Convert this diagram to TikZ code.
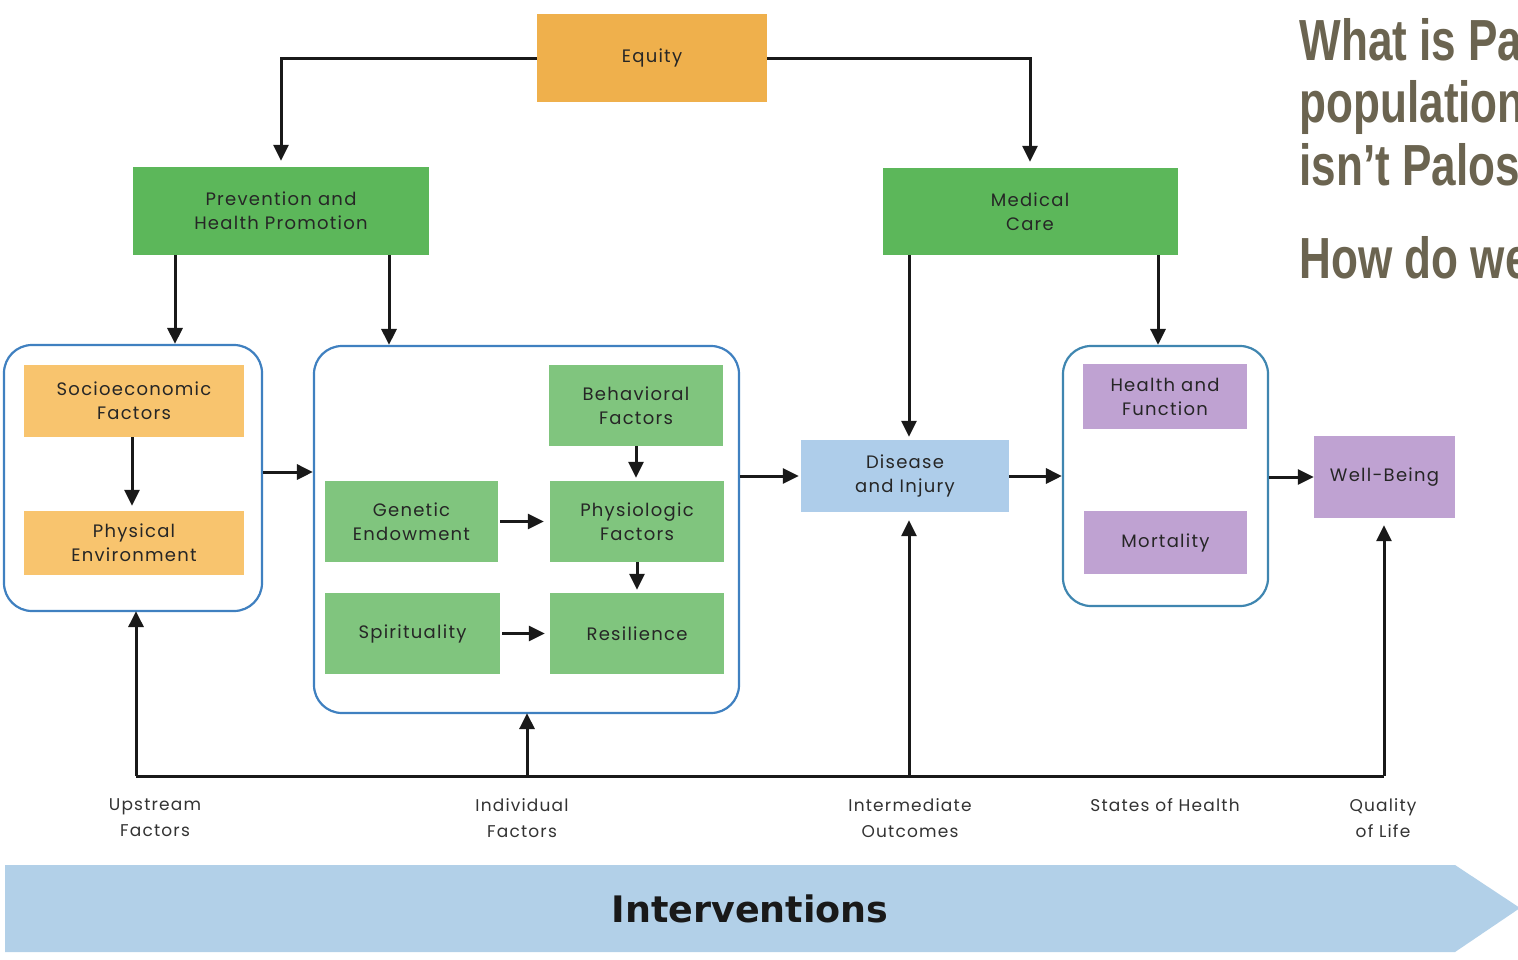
\documentclass[tikz,border=0pt]{standalone}
\usepackage{fontspec}
\setmainfont[LetterSpace=7]{Poppins}
\newfontfamily\titlefont[FakeStretch=0.76]{Liberation Sans}
\newfontfamily\bandfont{DejaVu Sans}
\usetikzlibrary{arrows.meta}

\definecolor{eqorange}{HTML}{EFB04C}
\definecolor{ltorange}{HTML}{F8C46E}
\definecolor{dkgreen}{HTML}{5CB75A}
\definecolor{ltgreen}{HTML}{80C57E}
\definecolor{ltblue}{HTML}{AECDEA}
\definecolor{lilac}{HTML}{BFA2D2}
\definecolor{frameblue}{HTML}{3F80C0}
\definecolor{frameteal}{HTML}{3F86B0}
\definecolor{bandblue}{HTML}{B2D0E8}
\definecolor{titlegrey}{HTML}{6B6450}
\definecolor{inkgrey}{HTML}{333333}

\tikzset{
  box/.style={rectangle, inner sep=0pt, align=center,
    font=\fontsize{18}{24}\selectfont, text=black!85},
  frame/.style={rectangle, rounded corners=28pt, draw=frameblue,
    line width=2.2pt, fill=white, inner sep=0pt},
  link/.style={draw=black!90, line width=3pt},
  arr/.style={link, -{Triangle[length=16pt,width=15pt]}},
  caption/.style={align=center, text=inkgrey,
    font=\fontsize{17}{26}\selectfont},
  headline/.style={anchor=base west, text=titlegrey,
    font=\titlefont\bfseries\fontsize{58}{62}\selectfont},
}

\begin{document}
\begin{tikzpicture}[x=1pt, y=-1pt]
  \useasboundingbox (0,0) rectangle (1518,959);
  \clip (0,0) rectangle (1518,959);
  \fill[white] (0,0) rectangle (1518,959);

  % top row
  \node[box, fill=eqorange, minimum width=230pt, minimum height=88pt] (eq) at (652,58) {Equity};
  \node[box, fill=dkgreen, minimum width=296pt, minimum height=88pt] (prev) at (281,211) {Prevention and\\Health Promotion};
  \node[box, fill=dkgreen, minimum width=295pt, minimum height=87pt] (med) at (1030,211.5) {Medical\\Care};

  % upstream factors
  \node[frame, minimum width=258pt, minimum height=266pt] (lc) at (133,478) {};
  \node[box, fill=ltorange, minimum width=220pt, minimum height=72pt] (socio) at (134,401) {Socioeconomic\\Factors};
  \node[box, fill=ltorange, minimum width=220pt, minimum height=64pt] (phys) at (134,543) {Physical\\Environment};

  % individual factors
  \node[frame, minimum width=425pt, minimum height=367pt] (mc) at (526.5,529.5) {};
  \node[box, fill=ltgreen, minimum width=174pt, minimum height=81pt] (behav) at (636,405.5) {Behavioral\\Factors};
  \node[box, fill=ltgreen, minimum width=173pt, minimum height=81pt] (gen) at (411.5,521.5) {Genetic\\Endowment};
  \node[box, fill=ltgreen, minimum width=174pt, minimum height=81pt] (physio) at (637,521.5) {Physiologic\\Factors};
  \node[box, fill=ltgreen, minimum width=175pt, minimum height=81pt] (spirit) at (412.5,633.5) {Spirituality};
  \node[box, fill=ltgreen, minimum width=174pt, minimum height=81pt] (resil) at (637,633.5) {Resilience};

  % outcomes
  \node[box, fill=ltblue, minimum width=208pt, minimum height=72pt] (dis) at (905,476) {Disease\\and Injury};
  \node[frame, draw=frameteal, minimum width=205pt, minimum height=260pt] (rc) at (1165.5,476) {};
  \node[box, fill=lilac, minimum width=164pt, minimum height=65pt] (hf) at (1165,396.5) {Health and\\Function};
  \node[box, fill=lilac, minimum width=163pt, minimum height=63pt] (mort) at (1165.5,542.5) {Mortality};
  \node[box, fill=lilac, minimum width=141pt, minimum height=82pt] (well) at (1384.5,477) {Well-Being};

  % equity branches
  \draw[arr, shorten >=6pt] (eq.west) -| (prev.north);
  \draw[arr, shorten >=6pt] (eq.east) -| (med.north);

  % prevention and medical care branches
  \draw[arr] ([xshift=-106pt]prev.south) -- ([xshift=-106pt]prev.south |- lc.north);
  \draw[arr] ([xshift=108pt]prev.south) -- ([xshift=108pt]prev.south |- mc.north);
  \draw[arr, shorten >=3pt] ([xshift=-121pt]med.south) -- ([xshift=-121pt]med.south |- dis.north);
  \draw[arr] ([xshift=128pt]med.south) -- ([xshift=128pt]med.south |- rc.north);

  % main flow
  \draw[arr] ([yshift=6pt]lc.east) -- ([yshift=6pt]lc.east -| mc.west);
  \draw[arr, shorten >=2pt] (dis.west -| mc.east) -- (dis.west);
  \draw[arr] (dis.east) -- (dis.east -| rc.west);
  \draw[arr] (rc.east |- well.west) -- (well.west);

  % inside the frames
  \draw[arr, shorten >=5pt] ([xshift=-2pt]socio.south) -- ([xshift=-2pt]phys.north);
  \draw[arr, shorten >=3pt] (behav.south) -- (behav.south |- physio.north);
  \draw[arr, shorten >=3pt] (physio.south) -- (resil.north);
  \draw[arr, shorten <=2pt, shorten >=6pt] (gen.east) -- (gen.east -| physio.west);
  \draw[arr, shorten <=2pt, shorten >=5pt] (spirit.east) -- (spirit.east -| resil.west);

  % feedback line along the bottom
  \coordinate (fbL) at (136,776);
  \coordinate (fbI) at (527,776);
  \coordinate (fbM) at (909,776);
  \coordinate (fbR) at (1384,776);
  \draw[link] (fbL) -- (fbR);
  \draw[arr, shorten >=-1pt] (fbL) -- (fbL |- lc.south);
  \draw[arr, shorten >=-1pt] (fbI) -- (fbI |- mc.south);
  \draw[arr, shorten >=8pt] (fbM) -- (fbM |- dis.south);
  \draw[arr, shorten >=7pt] (fbR) -- (fbR |- well.south);

  % stage captions
  \node[caption] (cUp) at (155,818) {Upstream\\Factors};
  \node[caption] (cInd) at (522,818) {Individual\\Factors};
  \node[caption] (cInt) at (910,818) {Intermediate\\Outcomes};
  \node[caption] (cSt) at (1165,805) {States of Health};
  \node[caption] (cQ) at (1383,818) {Quality\\of Life};

  % interventions band
  \fill[bandblue] (5,865) -- (1455,865) -- (1520,908) -- (1455,952) -- (5,952) -- cycle;
  \node[font=\bandfont\bfseries\fontsize{36.5}{40}\selectfont, text=black!90] (band) at (750,909) {Interventions};

  % headline on the right, running off the page edge
  \node[headline] (h1) at (1296,60) {What is Pa};
  \node[headline] (h2) at (1296,122) {population};
  \node[headline] (h3) at (1296,185) {isn’t Palos’};
  \node[headline] (h4) at (1296,278) {How do we};
\end{tikzpicture}
\end{document}
